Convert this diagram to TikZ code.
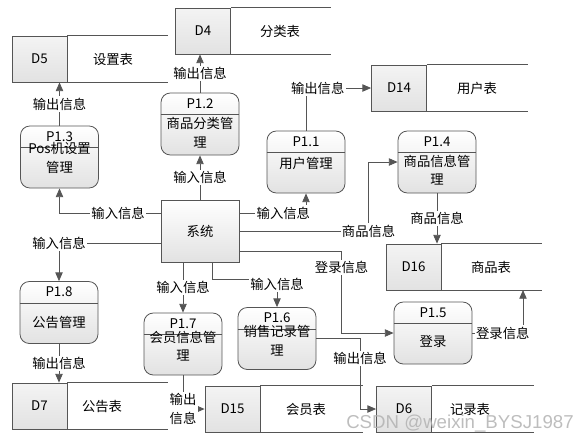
\documentclass[tikz,border=0pt]{standalone}
\usepackage{fontspec}
\setmainfont{Noto Sans CJK SC}
\newfontfamily\wmfont{Liberation Sans}
\usetikzlibrary{arrows.meta, calc}

\definecolor{linegray}{HTML}{555555}
\definecolor{boxgray}{HTML}{E2E2E2}

\begin{document}
\begin{tikzpicture}[
    x=0.75pt, y=-0.75pt,
    font=\fontsize{10}{14}\selectfont,
    proc/.style={draw=linegray, rounded corners=7pt, top color=white, bottom color=boxgray,
                 line width=0.6pt, minimum width=58.5pt, minimum height=46.5pt, inner sep=0pt},
    sysbox/.style={draw=linegray, top color=white, bottom color=boxgray, line width=0.6pt,
                   minimum width=58.5pt, minimum height=46.5pt, inner sep=0pt},
    sid/.style={draw=linegray, top color=white!60!boxgray, bottom color=boxgray, line width=0.6pt,
                minimum width=41.25pt, minimum height=34.5pt, inner sep=0pt},
    storeline/.style={draw=linegray, line width=0.6pt},
    headline/.style={draw=linegray, line width=0.6pt},
    ptext/.style={align=center, inner sep=0pt},
    lbl/.style={fill=white, inner sep=1pt, align=center},
    wm/.style={text=gray!60, text opacity=0.85, font=\wmfont\fontsize{14}{16}\selectfont},
    arr/.style={-{Triangle[length=6.5pt, width=5.5pt]}, draw=linegray, line width=0.6pt}
  ]
    \useasboundingbox (0,0) rectangle (588,444);

    % data stores
    \node[sid] (d5) at (39.5,59) {D5};
    \node (d5n) at (113,59) {设置表};
    \draw[storeline] (d5.north east) -- ++(101,0) (d5.south east) -- ++(101,0);

    \node[sid] (d4) at (203,31) {D4};
    \node (d4n) at (280,31) {分类表};
    \draw[storeline] (d4.north east) -- ++(100,0) (d4.south east) -- ++(100,0);

    \node[sid] (d14) at (399,88) {D14};
    \node (d14n) at (477,88) {用户表};
    \draw[storeline] (d14.north east) -- ++(101,0) (d14.south east) -- ++(101,0);

    \node[sid] (d16) at (413.5,267) {D16};
    \node (d16n) at (491,267) {商品表};
    \draw[storeline] (d16.north east) -- ++(101,0) (d16.south east) -- ++(101,0);

    \node[sid] (d6) at (404,409) {D6};
    \node (d6n) at (470,409) {记录表};
    \draw[storeline] (d6.north east) -- ++(102,0) (d6.south east) -- ++(102,0);

    \node[sid] (d15) at (232.5,409) {D15};
    \node (d15n) at (306,409) {会员表};
    \draw[storeline] (d15.north east) -- ++(103,0) (d15.south east) -- ++(103,0);

    \node[sid] (d7) at (39.5,406) {D7};
    \node (d7n) at (102,406) {公告表};
    \draw[storeline] (d7.north east) -- ++(101,0) (d7.south east) -- ++(101,0);

    % processes
    \node[proc] (p13) at (59.5,157) {};
    \draw[headline] ([yshift=-16.5pt]p13.north west) -- ([yshift=-16.5pt]p13.north east);
    \node[ptext] (p13h) at ([yshift=-8.25pt]p13.north) {P1.3};
    \node[ptext] (p13b) at (59.5,158) {Pos机设置\\管理};

    \node[proc] (p12) at (200,124) {};
    \draw[headline] ([yshift=-16.5pt]p12.north west) -- ([yshift=-16.5pt]p12.north east);
    \node[ptext] (p12h) at ([yshift=-8.25pt]p12.north) {P1.2};
    \node[ptext] (p12b) at (200,133) {商品分类管\\理};

    \node[proc] (p11) at (306,162) {};
    \draw[headline] ([yshift=-16.5pt]p11.north west) -- ([yshift=-16.5pt]p11.north east);
    \node[ptext] (p11h) at ([yshift=-8.25pt]p11.north) {P1.1};
    \node[ptext] (p11b) at (306,163) {用户管理};

    \node[proc] (p14) at (437,162) {};
    \draw[headline] ([yshift=-16.5pt]p14.north west) -- ([yshift=-16.5pt]p14.north east);
    \node[ptext] (p14h) at ([yshift=-8.25pt]p14.north) {P1.4};
    \node[ptext] (p14b) at (437,170) {商品信息管\\理};

    \node[proc] (p15) at (433,333) {};
    \draw[headline] ([yshift=-16.5pt]p15.north west) -- ([yshift=-16.5pt]p15.north east);
    \node[ptext] (p15h) at ([yshift=-8.25pt]p15.north) {P1.5};
    \node[ptext] (p15b) at (433,341) {登录};

    \node[proc] (p18) at (59,312.5) {};
    \draw[headline] ([yshift=-16.5pt]p18.north west) -- ([yshift=-16.5pt]p18.north east);
    \node[ptext] (p18h) at ([yshift=-8.25pt]p18.north) {P1.8};
    \node[ptext] (p18b) at (59,322) {公告管理};

    \node[proc] (p17) at (183,344) {};
    \draw[headline] ([yshift=-16.5pt]p17.north west) -- ([yshift=-16.5pt]p17.north east);
    \node[ptext] (p17h) at ([yshift=-8.25pt]p17.north) {P1.7};
    \node[ptext] (p17b) at (183,346) {会员信息管\\理};

    \node[proc] (p16) at (277,338.5) {};
    \draw[headline] ([yshift=-16.5pt]p16.north west) -- ([yshift=-16.5pt]p16.north east);
    \node[ptext] (p16h) at ([yshift=-8.25pt]p16.north) {P1.6};
    \node[ptext] (p16b) at (277,341) {销售记录管\\理};

    % system
    \node[sysbox] (sys) at (200,231) {系统};

    % flows
    \draw[arr] (p13.north) -- node[lbl] {输出信息} (p13.north |- d5.south);
    \draw[arr] ([yshift=13.5pt]sys.west) -| node[lbl, pos=0.21] {输入信息} (p13.south);
    \draw[arr] ([yshift=-9pt]sys.west) -| node[lbl, pos=0.5] {输入信息} (p18.north);
    \draw[arr] (sys.north) -- node[lbl] {输入信息} (p12.south);
    \draw[arr] (p12.north) -- node[lbl] {输出信息} (p12.north |- d4.south);
    \draw[arr] ([yshift=13.5pt]sys.east) -| node[lbl, pos=0.33] {输入信息} (p11.south);
    \draw[arr] (p11.north) |- node[lbl, pos=0.59] {输出信息} (d14.west);
    \draw[arr] (sys.east) -| node[lbl, pos=0.5] {商品信息} ([xshift=-21.75pt]p14.west) -- (p14.west);
    \draw[arr] (p14.south) -- node[lbl] {商品信息} (p14.south |- d16.north);
    \draw[arr] ([yshift=-15pt]sys.east) -| node[lbl, pos=0.6] {登录信息} ([xshift=-39pt]p15.west) -- (p15.west);
    \coordinate (d16in) at (523,290);
    \draw[arr] (p15.east) -| node[lbl, pos=0.3] {登录信息} (d16in);
    \draw[arr] (p17.north |- sys.south) -- node[lbl] {输入信息} (p17.north);
    \draw[arr] ([xshift=9pt]sys.south) |- ([yshift=21pt]p16.north) -- node[lbl, pos=0.2] {输入信息} (p16.north);
    \draw[arr] (p16.east) -| node[lbl, pos=0.64] {输出信息} ([xshift=-12pt]d6.west) -- (d6.west);
    \draw[arr] (p17.south) |- node[lbl, pos=0.5] {输出\\信息} (d15.west);
    \draw[arr] (p18.south) -- node[lbl] {输出信息} (p18.south |- d7.north);

    \node[wm] (mark) at (460,424) {CSDN @weixin\_BYSJ1987};
  \end{tikzpicture}
\end{document}
